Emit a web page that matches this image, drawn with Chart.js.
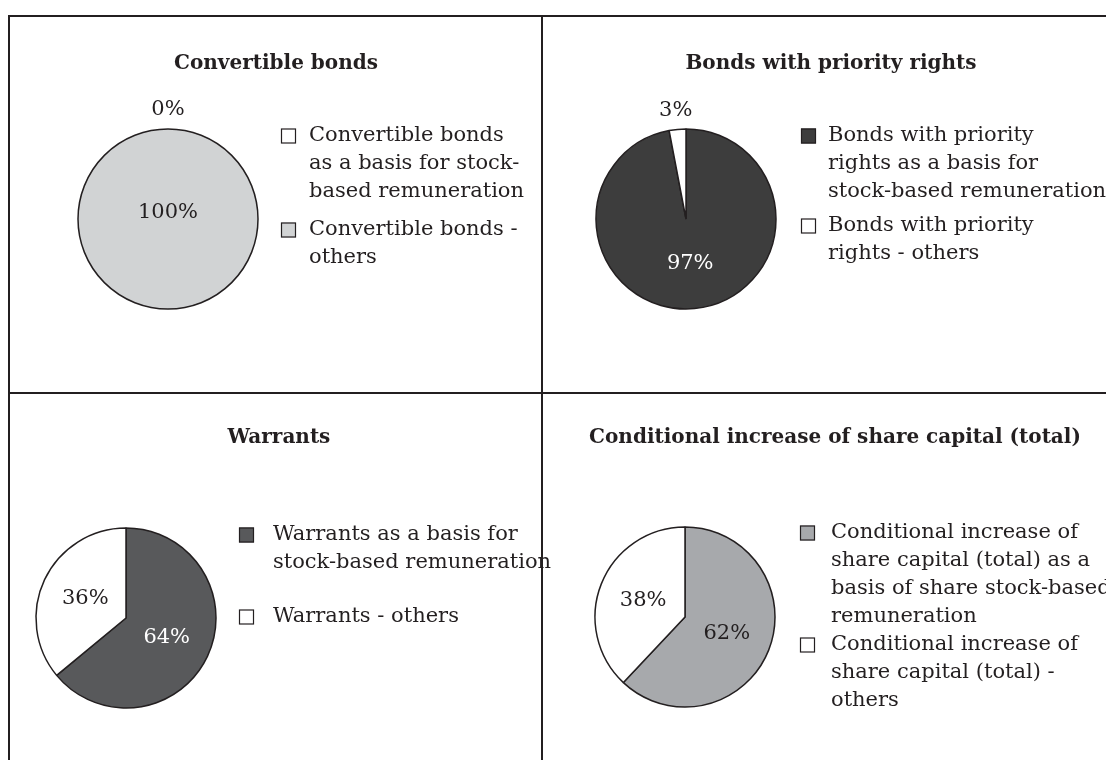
<!DOCTYPE html>
<html>
<head>
<meta charset="utf-8">
<script src="https://cdn.jsdelivr.net/npm/chart.js@4.4.1/dist/chart.umd.min.js"></script>
<style>
  body { margin: 0; background: #fff; width: 1106px; height: 760px; overflow: hidden; position: relative; }
  .panel { position: absolute; }
  .rule { position: absolute; background: #231f20; z-index: 5; }
</style>
</head>
<body>
<div class="rule" style="left:8px;top:15px;width:1098px;height:2px"></div>
<div class="rule" style="left:8px;top:15px;width:2px;height:745px"></div>
<div class="rule" style="left:541px;top:15px;width:2px;height:745px"></div>
<div class="rule" style="left:8px;top:392px;width:1098px;height:2px"></div>

<div class="panel" style="left:10px;top:17px;width:531px;height:375px"><canvas id="convertible"></canvas></div>
<div class="panel" style="left:543px;top:17px;width:563px;height:375px"><canvas id="priority"></canvas></div>
<div class="panel" style="left:10px;top:394px;width:571px;height:366px"><canvas id="warrants"></canvas></div>
<div class="panel" style="left:543px;top:394px;width:563px;height:366px"><canvas id="capital"></canvas></div>

<script>
// shares in percent, first slice starts at 12 o'clock
const convertibleLabels = [['Convertible bonds', 'as a basis for stock-', 'based remuneration'], ['Convertible bonds -', 'others']];
const convertibleValues = [0, 100];

const priorityLabels = [['Bonds with priority', 'rights as a basis for', 'stock-based remuneration'], ['Bonds with priority', 'rights - others']];
const priorityValues = [97, 3];

const warrantLabels = [['Warrants as a basis for', 'stock-based remuneration'], ['Warrants - others']];
const warrantValues = [64, 36];

const capitalLabels = [['Conditional increase of', 'share capital (total) as a', 'basis of share stock-based', 'remuneration'], ['Conditional increase of', 'share capital (total) -', 'others']];
const capitalValues = [62, 38];

const INK = '#231f20';
const SERIF = '"DejaVu Serif", serif';
const RADIUS = 90;
const BOX = 15;
const EDGE = 1.5;

function isDark(hex) {
    const n = parseInt(hex.slice(1), 16);
    const r = n >> 16, g = (n >> 8) & 255, b = n & 255;
    return (0.299 * r + 0.587 * g + 0.114 * b) < 110;
}

function sum(arr) {
    return arr.reduce((a, b) => a + b, 0);
}

// title, percentage labels and the wrapped legend
const panelText = {
    id: 'panelText',
    afterDatasetsDraw(chart, args, opts) {
        const ctx = chart.ctx;
        const ds = chart.data.datasets[0];
        const meta = chart.getDatasetMeta(0);
        const total = sum(ds.data);

        ctx.save();
        ctx.textBaseline = 'middle';
        ctx.fillStyle = INK;
        ctx.textAlign = 'center';
        ctx.font = 'bold 20px ' + SERIF;
        ctx.fillText(opts.title, opts.titleX, opts.titleY);

        ctx.font = '21px ' + SERIF;
        meta.data.forEach((arc, i) => {
            const share = ds.data[i] / total;
            const p = arc.getProps(['x', 'y', 'startAngle', 'endAngle', 'outerRadius']);
            let x, y;
            if (share === 1) {
                // whole pie: plain outline, label in the middle
                ctx.beginPath();
                ctx.arc(p.x, p.y, p.outerRadius, 0, Math.PI * 2);
                ctx.strokeStyle = INK;
                ctx.lineWidth = EDGE;
                ctx.stroke();
                x = p.x;
                y = p.y - 6;
            } else if (share < 0.05) {
                const a = (p.startAngle + p.endAngle) / 2;
                x = p.x + Math.cos(a) * (p.outerRadius + 19);
                y = p.y + Math.sin(a) * (p.outerRadius + 19);
            } else {
                const c = arc.getCenterPoint();
                x = c.x;
                y = c.y;
            }
            ctx.fillStyle = (share < 0.05 || !isDark(ds.backgroundColor[i])) ? INK : '#ffffff';
            ctx.fillText(Math.round(share * 100) + '%', x, y);
        });

        ctx.textAlign = 'left';
        let y = opts.legendTop;
        chart.data.labels.forEach((lines, i) => {
            ctx.fillStyle = ds.backgroundColor[i];
            ctx.fillRect(opts.boxX, y - BOX / 2, BOX, BOX);
            ctx.strokeStyle = INK;
            ctx.lineWidth = 1.2;
            ctx.strokeRect(opts.boxX + 0.5, y - BOX / 2 + 0.5, BOX - 1, BOX - 1);
            ctx.fillStyle = INK;
            lines.forEach((line, k) => {
                ctx.fillText(line, opts.textX, y + k * 28);
            });
            y += lines.length * 28 + opts.itemGap;
        });
        ctx.restore();
    }
};

function makePie(id, labels, values, colors, text) {
    const box = document.getElementById(id).parentNode;
    const w = box.clientWidth, h = box.clientHeight;
    const total = sum(values);
    return new Chart(document.getElementById(id), {
        type: 'pie',
        data: {
            labels: labels,
            datasets: [{
                data: values,
                backgroundColor: colors,
                borderColor: INK,
                // empty or whole slices would leave a radial stroke
                borderWidth: (c) => (c.raw === 0 || c.raw === total) ? 0 : EDGE,
                radius: RADIUS
            }]
        },
        options: {
            responsive: true,
            maintainAspectRatio: false,
            animation: false,
            layout: {
                padding: {
                    left: text.cx - RADIUS,
                    right: w - text.cx - RADIUS,
                    top: text.cy - RADIUS,
                    bottom: h - text.cy - RADIUS
                }
            },
            plugins: {
                legend: { display: false },
                tooltip: { enabled: false },
                panelText: text
            }
        },
        plugins: [panelText]
    });
}

makePie('convertible', convertibleLabels, convertibleValues, ['#ffffff', '#d1d3d4'], {
    title: 'Convertible bonds', titleX: 266, titleY: 47,
    cx: 158, cy: 202, boxX: 271, textX: 299, legendTop: 119, itemGap: 10
});
makePie('priority', priorityLabels, priorityValues, ['#3d3d3d', '#ffffff'], {
    title: 'Bonds with priority rights', titleX: 288, titleY: 47,
    cx: 143, cy: 202, boxX: 258, textX: 285, legendTop: 119, itemGap: 6
});
makePie('warrants', warrantLabels, warrantValues, ['#58595b', '#ffffff'], {
    title: 'Warrants', titleX: 269, titleY: 44,
    cx: 116, cy: 224, boxX: 229, textX: 263, legendTop: 141, itemGap: 26
});
makePie('capital', capitalLabels, capitalValues, ['#a7a9ac', '#ffffff'], {
    title: 'Conditional increase of share capital (total)', titleX: 292, titleY: 44,
    cx: 142, cy: 223, boxX: 257, textX: 288, legendTop: 139, itemGap: 0
});
</script>
</body>
</html>
